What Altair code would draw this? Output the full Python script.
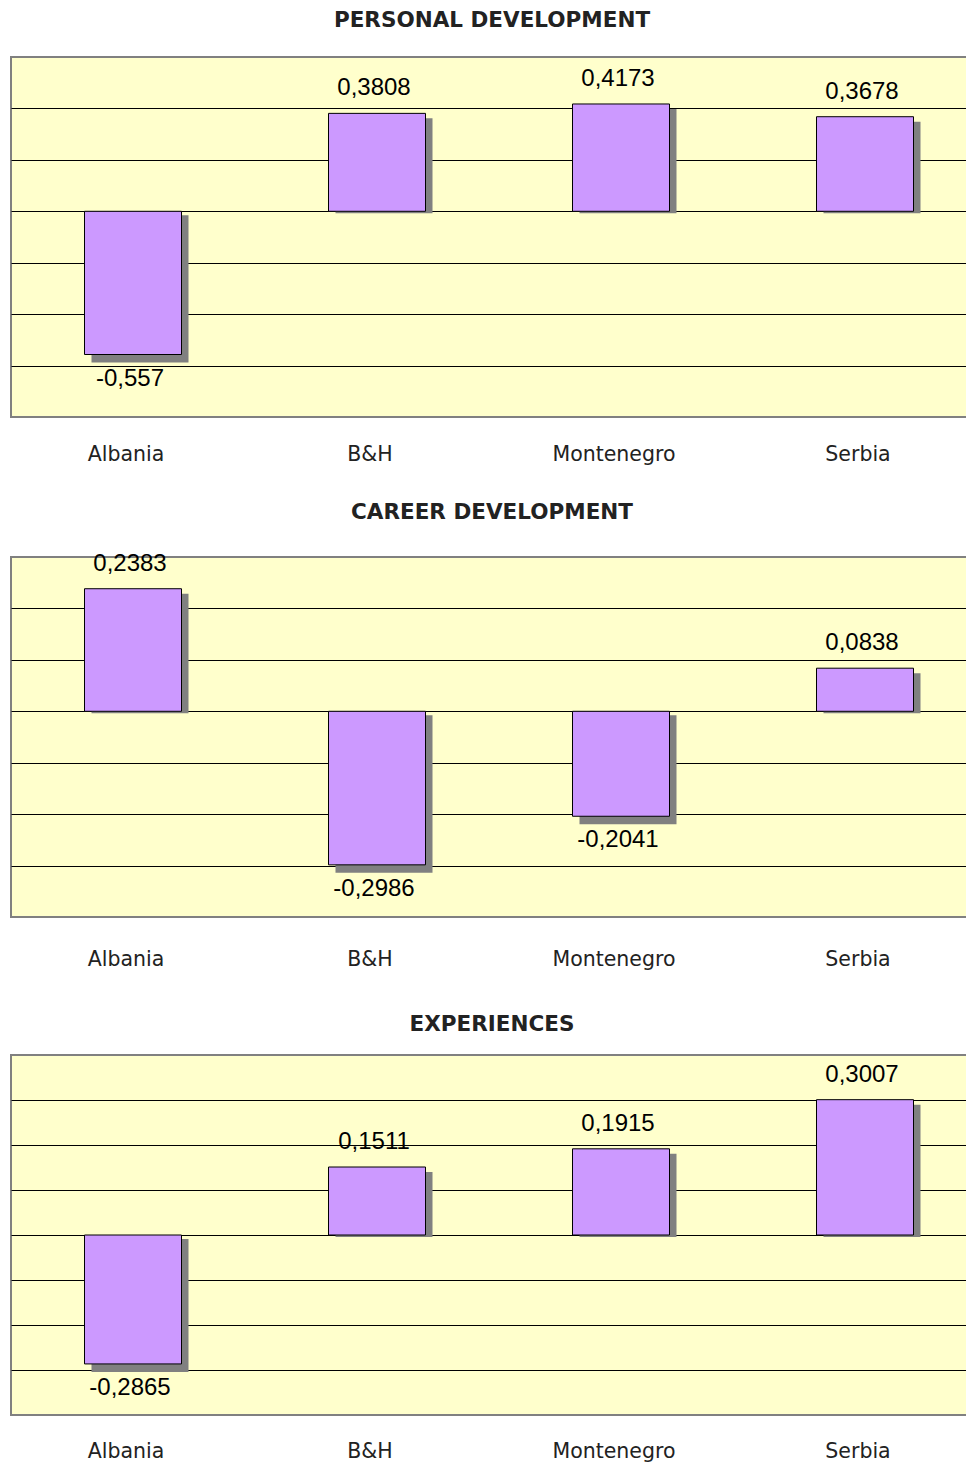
import altair as alt
import pandas as pd

countries = ["Albania", "B&H", "Montenegro", "Serbia"]
personal = [-0.557, 0.3808, 0.4173, 0.3678]
career = [0.2383, -0.2986, -0.2041, 0.0838]
experiences = [-0.2865, 0.1511, 0.1915, 0.3007]

titles = ["PERSONAL DEVELOPMENT", "CAREER DEVELOPMENT", "EXPERIENCES"]
domains = [[-0.8, 0.6], [-0.4, 0.3], [-0.4, 0.4]]
grids = [
    [-0.6, -0.4, -0.2, 0, 0.2, 0.4],
    [-0.3, -0.2, -0.1, 0, 0.1, 0.2],
    [-0.3, -0.2, -0.1, 0, 0.1, 0.2, 0.3],
]

BAR = "#CC99FF"
SHADOW = "#808080"
W = 976
H = 360
BW = 97


def panel(title, values, domain, grid_vals, label_pad, title_offset):
    df = pd.DataFrame({
        "country": countries,
        "value": values,
        "base": [0] * len(values),
        "label": [str(v).replace(".", ",") for v in values],
    })
    base = alt.Chart(df)
    xenc = alt.X(
        "country:N", sort=countries,
        scale=alt.Scale(paddingInner=0, paddingOuter=0),
        axis=alt.Axis(title=None, ticks=False, tickSize=0, domain=False, grid=False,
                      labelAngle=0, labelFont="DejaVu Sans", labelFontSize=20.5,
                      labelColor="#222222", labelPadding=label_pad, labelOffset=-7),
    )
    yenc = alt.Y("value:Q", scale=alt.Scale(domain=domain, nice=False, zero=False),
                 axis=alt.Axis(title=None, labels=False, ticks=False, domain=False,
                               values=grid_vals, grid=True, gridColor="#000000",
                               gridWidth=1.2, gridOpacity=1))

    shadow_pos = base.transform_filter(alt.datum.value > 0).mark_bar(
        size=BW, color=SHADOW, xOffset=7, yOffset=5, y2Offset=2
    ).encode(x=xenc, y=yenc, y2="base:Q")
    shadow_neg = base.transform_filter(alt.datum.value < 0).mark_bar(
        size=BW, color=SHADOW, xOffset=7, yOffset=8, y2Offset=4
    ).encode(x=xenc, y=yenc, y2="base:Q")
    bars = base.mark_bar(size=BW, color=BAR, stroke="#000000", strokeWidth=1).encode(
        x=xenc, y=yenc, y2="base:Q")
    text_pos = base.transform_filter(alt.datum.value > 0).mark_text(
        font="Liberation Sans", fontSize=24, color="#000000", baseline="middle", dy=-25, dx=-3
    ).encode(x=xenc, y=yenc, text="label:N")
    text_neg = base.transform_filter(alt.datum.value < 0).mark_text(
        font="Liberation Sans", fontSize=24, color="#000000", baseline="middle", dy=24, dx=-3
    ).encode(x=xenc, y=yenc, text="label:N")

    return alt.layer(shadow_pos, shadow_neg, bars, text_pos, text_neg).properties(
        width=W, height=H,
        title=alt.TitleParams(title, font="DejaVu Sans", fontSize=21.5, fontWeight="bold",
                              color="#222222", offset=title_offset, anchor="middle", dx=-7),
    )


p1 = panel(titles[0], personal, domains[0], grids[0], 27, 26)
p2 = panel(titles[1], career, domains[1], grids[1], 32, 28)
p3 = panel(titles[2], experiences, domains[2], grids[2], 26, 20)

chart = alt.vconcat(alt.vconcat(p1, p2, spacing=35), p3, spacing=41).properties(
    padding={"left": 2, "top": 0, "right": -22, "bottom": 0}
).configure_view(fill="#FFFFCC", stroke="#808080", strokeWidth=2)

chart.save("out.html", embed_options={"renderer": "svg", "actions": False})
